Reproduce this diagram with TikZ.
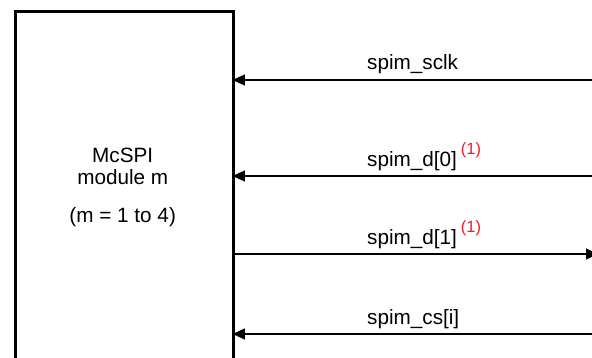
\documentclass[tikz,border=0pt]{standalone}
\usepackage{fontspec}
\setmainfont{Liberation Sans}
\usetikzlibrary{arrows.meta}
\definecolor{notered}{RGB}{237,28,36}
\tikzset{
  modbox/.style={draw=black, line width=3.4pt},
  sig/.style={draw=black, line width=1.2pt, -{Triangle[length=12pt,width=11pt]}},
  siglabel/.style={anchor=base west, inner sep=0pt, font=\fontsize{20.7}{24}\selectfont},
  boxtext/.style={anchor=base, inner sep=0pt, font=\fontsize{20.7}{24}\selectfont}
}
\newcommand{\noteone}{\kern4pt\raisebox{12pt}{\fontsize{16.4}{16}\selectfont\color{notered}(1)}}
\begin{document}
\begin{tikzpicture}[x=1pt,y=-1pt]
\useasboundingbox (0,0) rectangle (592,358);
\clip (0,0) rectangle (592,358);
% module box
\node[modbox, minimum width=217.5pt, minimum height=420pt, anchor=north west, inner sep=0pt] (mod) at (14,10) {};
\node[boxtext] (t1) at (122.7,163) {McSPI};
\node[boxtext] (t2) at (122.7,185) {module m};
\node[boxtext] (t3) at (122.7,223) {(m = 1 to 4)};
% free ends
\coordinate (e1) at (600,80);
\coordinate (e2) at (600,176);
\coordinate (e3) at (598,254);
\coordinate (e4) at (600,334);
\coordinate (b1) at (232.8,80);
\coordinate (b2) at (232.8,176);
\coordinate (b3) at (232.8,254);
\coordinate (b4) at (232.8,334);
\draw[sig] (e1) -- (b1);
\draw[sig] (e2) -- (b2);
\draw[sig] (b3) -- (e3);
\draw[sig] (e4) -- (b4);
% labels
\node[siglabel] (l1) at (367,70) {spim\_sclk};
\node[siglabel] (l2) at (367,167) {spim\_d[0]\noteone};
\node[siglabel] (l3) at (367,245) {spim\_d[1]\noteone};
\node[siglabel] (l4) at (367,324) {spim\_cs[i]};
\end{tikzpicture}
\end{document}
